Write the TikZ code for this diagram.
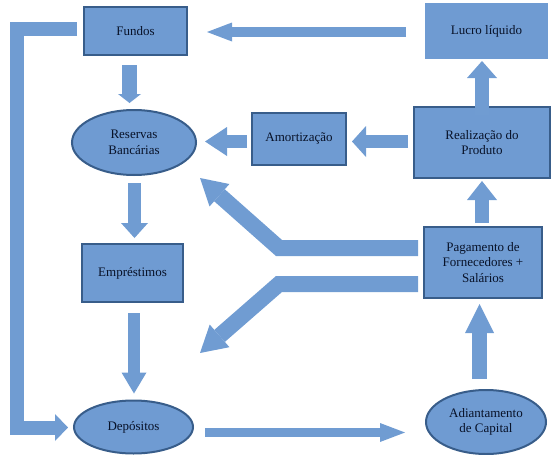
\documentclass[tikz,border=0pt]{standalone}
\usepackage{fontspec}
\setmainfont{Liberation Serif}
\usetikzlibrary{arrows.meta,shapes.geometric,calc}
\definecolor{boxfill}{RGB}{111,155,210}
\definecolor{arrfill}{RGB}{112,156,210}
\definecolor{boxline}{RGB}{56,93,138}
\definecolor{txt}{RGB}{8,18,40}
\tikzset{
  base/.style={fill=boxfill, inner sep=0pt, outer sep=0pt, align=center, text=txt,
    font=\fontsize{13}{15.5}\selectfont},
  rbox/.style={base, rectangle, draw=boxline, line width=2.6pt},
  pbox/.style={base, rectangle},
  ebox/.style={base, ellipse, draw=boxline, line width=2pt},
  blk/.style n args={3}{draw=arrfill, line width=#1pt, line join=miter,
    -{Triangle[length=#2pt,width=#3pt,line width=0pt]}},
}
\begin{document}
\begin{tikzpicture}[x=1pt,y=-1pt]
\useasboundingbox (0,0) rectangle (557,455);
% nodes
\node[rbox, minimum width=103pt, minimum height=48pt] (fun) at (135.5,31) {Fundos};
\node[pbox, minimum width=123pt, minimum height=56pt] (luc) at (486.5,31) {Lucro líquido};
\node[ebox, minimum width=124pt, minimum height=65pt] (res) at (134,142.5) {Reservas\\Bancárias};
\node[rbox, minimum width=94pt, minimum height=52pt] (amo) at (299,139) {Amortização};
\node[rbox, minimum width=136pt, minimum height=71pt] (rea) at (482,142.5) {Realização do\\Produto};
\node[rbox, minimum width=118pt, minimum height=71pt] (pag) at (483,262.5) {Pagamento de\\Fornecedores +\\Salários};
\node[rbox, minimum width=101pt, minimum height=58pt] (emp) at (132.5,273) {Empréstimos};
\node[ebox, minimum width=119pt, minimum height=53pt] (dep) at (133.5,427) {Depósitos};
\node[ebox, minimum width=120pt, minimum height=64pt] (adi) at (486,422) {Adiantamento\\de Capital};
% bend points
\coordinate (lc1) at (17,29);
\coordinate (lc2) at (17,427.5);
\coordinate (b1) at (279,248);
\coordinate (t1) at (200,178);
\coordinate (b2) at (279,284);
\coordinate (t2) at (200,353);
% arrows
\draw[blk={10}{25}{19}] ($(luc.west)+(-19,1)$) -- ($(fun.east)+(20,1)$);
\draw[blk={15}{9}{23}] ($(fun.south)+(-6,10)$) -- ($(fun.south|-res.north)+(-6,-7)$);
\draw[blk={13}{22}{29}] ($(amo.west)+(-5,2.5)$) -- ($(res.east)+(9,-1)$);
\draw[blk={13}{14}{31}] ($(rea.west)+(-6,-1)$) -- ($(amo.east)+(6,2.5)$);
\draw[blk={14}{17}{30}] ($(rea.north)+(0,8)$) -- ($(luc.south)+(-4.5,2)$);
\draw[blk={14}{19}{30}] ($(pag.north)+(-1,-4)$) -- ($(rea.south)+(0,3)$);
\draw[blk={13}{15}{27}] ($(res.south)+(0.5,8)$) -- ($(emp.north)+(2,-6)$);
\draw[blk={12}{21}{25}] ($(emp.south)+(1.5,11)$) -- ($(dep.north)+(0.5,-7)$);
\draw[blk={9}{25}{19}] ($(dep.east)+(12,5.5)$) -- ($(adi.west)+(-21,10.5)$);
\draw[blk={15}{29}{29}] ($(adi.north)+(-6.5,-11)$) -- ($(pag.south)+(-3.5,6)$);
\draw[blk={14}{13}{27}] ($(fun.west)+(-7,-2)$) -- (lc1) -- (lc2) -- ($(dep.west)+(-6,0.5)$);
\draw[blk={16}{26}{30}] ($(pag.west)+(-6,-14.5)$) -- (b1) -- (t1);
\draw[blk={16}{26}{30}] ($(pag.west)+(-6,21.5)$) -- (b2) -- (t2);
\end{tikzpicture}
\end{document}
